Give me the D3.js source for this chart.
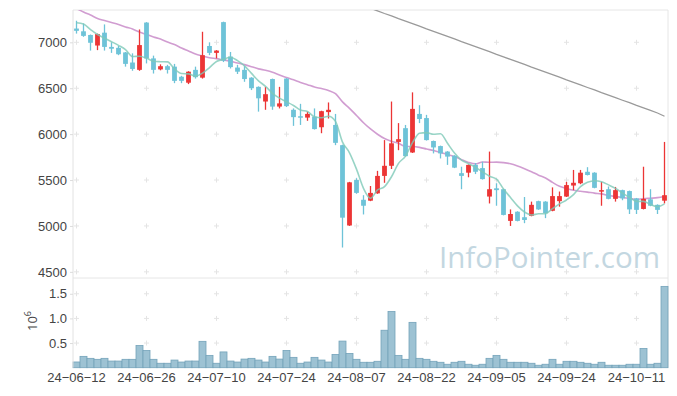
<!DOCTYPE html>
<html>
<head>
<meta charset="utf-8">
<script src="https://cdn.jsdelivr.net/npm/d3@7"></script>
<style>
	body { margin: 0; background: #fff; }
	svg { display: block; font-family: "Open Sans", "Noto Sans", sans-serif; }
</style>
</head>
<body>
<svg width="677" height="396"></svg>
<script>
// trading days, 24-06-12 .. 24-10-17
const dates = [
	"2024-06-12", "2024-06-13", "2024-06-14", "2024-06-17", "2024-06-18", "2024-06-19", "2024-06-20", "2024-06-21", "2024-06-24", "2024-06-25",
	"2024-06-26", "2024-06-27", "2024-06-28", "2024-07-01", "2024-07-02", "2024-07-03", "2024-07-04", "2024-07-05", "2024-07-08", "2024-07-09",
	"2024-07-10", "2024-07-11", "2024-07-12", "2024-07-15", "2024-07-16", "2024-07-17", "2024-07-18", "2024-07-19", "2024-07-22", "2024-07-23",
	"2024-07-24", "2024-07-25", "2024-07-26", "2024-07-29", "2024-07-30", "2024-07-31", "2024-08-01", "2024-08-02", "2024-08-05", "2024-08-06",
	"2024-08-07", "2024-08-08", "2024-08-09", "2024-08-12", "2024-08-13", "2024-08-14", "2024-08-16", "2024-08-19", "2024-08-20", "2024-08-21",
	"2024-08-22", "2024-08-23", "2024-08-26", "2024-08-27", "2024-08-28", "2024-08-29", "2024-08-30", "2024-09-02", "2024-09-03", "2024-09-04",
	"2024-09-05", "2024-09-06", "2024-09-09", "2024-09-10", "2024-09-11", "2024-09-12", "2024-09-13", "2024-09-19", "2024-09-20", "2024-09-23",
	"2024-09-24", "2024-09-25", "2024-09-26", "2024-09-27", "2024-09-30", "2024-10-02", "2024-10-04", "2024-10-07", "2024-10-08", "2024-10-10",
	"2024-10-11", "2024-10-14", "2024-10-15", "2024-10-16", "2024-10-17"
]

const open = [
	7150, 7120, 7080, 6965, 7105, 6950, 6940, 6890, 6780, 6700,
	7215, 6825, 6705, 6740, 6735, 6625, 6560, 6700, 6615, 6960,
	6885, 7220, 6845, 6725, 6700, 6615, 6515, 6355, 6600, 6300,
	6605, 6265, 6195, 6180, 6190, 6075, 6240, 6100, 5880, 5005,
	5500, 5285, 5275, 5355, 5545, 5655, 5915, 6065, 5800, 6220,
	6175, 5925, 5870, 5810, 5765, 5575, 5580, 5665, 5630, 5320,
	5410, 5400, 5055, 5155, 5095, 5110, 5270, 5265, 5165, 5270,
	5320, 5440, 5465, 5590, 5580, 5375, 5400, 5295, 5390, 5380,
	5300, 5185, 5290, 5230, 5275
]
const high = [
	7235, 7205, 7085, 7095, 7195, 7000, 6960, 6895, 6880, 7140,
	7220, 6855, 6760, 6755, 6765, 6635, 6685, 6735, 7115, 7000,
	6915, 7225, 6895, 6755, 6740, 6620, 6520, 6515, 6605, 6515,
	6610, 6280, 6330, 6245, 6280, 6255, 6345, 6220, 5885, 5480,
	5520, 5335, 5435, 5600, 5935, 6355, 6120, 6100, 6455, 6315,
	6210, 5930, 5875, 5815, 5770, 5645, 5670, 5685, 5700, 5810,
	5465, 5405, 5180, 5160, 5315, 5265, 5275, 5270, 5420, 5375,
	5480, 5610, 5610, 5640, 5585, 5480, 5430, 5425, 5395, 5385,
	5305, 5645, 5400, 5235, 5915
]
const low = [
	7095, 7060, 6910, 6915, 6910, 6885, 6860, 6735, 6690, 6690,
	6770, 6660, 6695, 6660, 6555, 6555, 6545, 6605, 6605, 6860,
	6825, 6785, 6715, 6655, 6570, 6480, 6245, 6265, 6265, 6280,
	6295, 6090, 6100, 6145, 6050, 6010, 6170, 5880, 4765, 5000,
	5350, 5125, 5270, 5350, 5470, 5620, 5825, 5755, 5795, 6120,
	5930, 5790, 5735, 5665, 5630, 5400, 5530, 5565, 5505, 5245,
	5220, 5115, 5000, 5050, 5030, 5105, 5175, 5085, 5160, 5210,
	5315, 5390, 5455, 5550, 5410, 5220, 5290, 5265, 5280, 5130,
	5130, 5180, 5215, 5130, 5245
]
const close = [
	7125, 7070, 6995, 7090, 6950, 6930, 6870, 6765, 6710, 6970,
	6825, 6700, 6740, 6700, 6580, 6580, 6680, 6620, 6860, 6885,
	6910, 6800, 6730, 6680, 6600, 6500, 6390, 6435, 6300, 6335,
	6305, 6185, 6185, 6220, 6055, 6250, 6265, 5905, 5090, 5475,
	5360, 5220, 5360, 5545, 5655, 5900, 5945, 5760, 6275, 6165,
	5935, 5855, 5790, 5755, 5635, 5545, 5665, 5590, 5510, 5400,
	5390, 5120, 5130, 5055, 5065, 5230, 5180, 5140, 5325, 5325,
	5445, 5470, 5580, 5555, 5415, 5390, 5295, 5390, 5300, 5180,
	5175, 5295, 5220, 5175, 5335
]
const volume = [
	116000, 230000, 190000, 170000, 190000, 135000, 135000, 170000, 170000, 450000,
	350000, 170000, 90000, 90000, 155000, 115000, 135000, 135000, 535000, 250000,
	90000, 320000, 135000, 115000, 175000, 190000, 155000, 115000, 230000, 175000,
	350000, 210000, 90000, 115000, 210000, 155000, 115000, 270000, 540000, 290000,
	170000, 110000, 110000, 130000, 760000, 1140000, 250000, 170000, 920000, 190000,
	170000, 130000, 110000, 70000, 110000, 130000, 70000, 50000, 70000, 190000,
	250000, 170000, 110000, 110000, 110000, 90000, 50000, 70000, 170000, 70000,
	130000, 130000, 110000, 90000, 70000, 110000, 50000, 50000, 50000, 70000,
	70000, 390000, 70000, 90000, 1650000
]

// moving average lines
const ma5 = [
	7213, 7199, 7139, 7085, 7046, 7007, 6967, 6921, 6845, 6849,
	6828, 6794, 6789, 6787, 6709, 6660, 6656, 6632, 6664, 6725,
	6791, 6815, 6837, 6801, 6744, 6662, 6580, 6521, 6445, 6392,
	6353, 6312, 6262, 6246, 6190, 6179, 6195, 6139, 5913, 5797,
	5619, 5410, 5301, 5392, 5428, 5536, 5681, 5761, 5907, 6009,
	6016, 5998, 6004, 5900, 5794, 5716, 5678, 5638, 5589, 5542,
	5511, 5402, 5310, 5219, 5152, 5120, 5132, 5134, 5188, 5240,
	5283, 5341, 5429, 5475, 5493, 5482, 5447, 5409, 5358, 5311,
	5268, 5268, 5234, 5209, 5240
]
const ma20 = [
	7368, 7330, 7297, 7259, 7237, 7216, 7194, 7167, 7145, 7112,
	7085, 7058, 7036, 7003, 6976, 6938, 6905, 6872, 6851, 6832,
	6822, 6808, 6795, 6774, 6757, 6735, 6711, 6695, 6674, 6643,
	6617, 6591, 6563, 6539, 6513, 6496, 6476, 6440, 6351, 6281,
	6203, 6124, 6056, 5999, 5952, 5922, 5900, 5866, 5865, 5856,
	5838, 5821, 5801, 5778, 5757, 5722, 5692, 5676, 5697, 5693,
	5695, 5690, 5678, 5654, 5624, 5591, 5553, 5522, 5474, 5432,
	5408, 5388, 5378, 5368, 5357, 5349, 5331, 5321, 5310, 5299,
	5288, 5297, 5302, 5308, 5321
]
// long average only shows from 24-08-09 on (above the plot before that)
const ma120Start = 42
const ma120 = [
	7370, 7343, 7314, 7287, 7258, 7231, 7203, 7176, 7147, 7120,
	7092, 7064, 7037, 7008, 6981, 6953, 6925, 6898, 6869, 6842,
	6814, 6786, 6759, 6730, 6703, 6675, 6647, 6620, 6591, 6564,
	6536, 6508, 6481, 6452, 6425, 6397, 6369, 6342, 6313, 6286,
	6258, 6230, 6195
]

const priceTicks = [4500, 5000, 5500, 6000, 6500, 7000]
const volTicks = [500000, 1000000, 1500000]
const dateTicks = dates.filter((d, i) => i % 10 == 0)

const svg = d3.select("svg"),
	width = +svg.attr("width"),
	height = +svg.attr("height");

const plotLeft = 73, plotRight = 668, plotTop = 10, split = 278, plotBottom = 367.7

const x = d3.scaleBand().domain(dates).range([plotLeft, plotRight])
const y = d3.scaleLinear().domain([4433, 7352]).range([split, plotTop])
const yv = d3.scaleLinear().domain([0, 1820000]).range([plotBottom, split])
const cx = d => x(d) + x.bandwidth() / 2

const red = "#ec3535", blue = "#6ec3d8", grid = "#e4e4e4"

svg.append("clipPath").attr("id", "clip")
	.append("rect").attr("x", plotLeft).attr("y", plotTop)
	.attr("width", plotRight - plotLeft).attr("height", split - plotTop)

// small crosses on the grid points
const cross = "M-2.5,0H2.5M0,-2.5V2.5"
const gridG = svg.append("g").attr("stroke", grid).attr("stroke-width", 1)
dateTicks.forEach(d => {
	priceTicks.map(y).concat(volTicks.map(yv)).forEach(py => {
		gridG.append("path").attr("d", cross).attr("transform", `translate(${cx(d)},${py})`)
	})
})

// frame
svg.append("g").attr("stroke", "#e6e6e6").attr("fill", "none")
	.selectAll("line")
	.data([[plotLeft, plotTop, plotRight, plotTop], [plotRight, plotTop, plotRight, plotBottom], [plotLeft, split, plotRight, split]])
	.join("line")
	.attr("x1", d => d[0]).attr("y1", d => d[1]).attr("x2", d => d[2]).attr("y2", d => d[3])

svg.append("text")
	.attr("x", 660).attr("y", 268)
	.attr("text-anchor", "end")
	.attr("font-size", 29.5)
	.attr("fill", "#c3d7e1")
	.text("InfoPointer.com")

// volume
svg.append("g")
	.selectAll("rect")
	.data(dates)
	.join("rect")
	.attr("x", d => x(d))
	.attr("width", x.bandwidth())
	.attr("y", (d, i) => yv(volume[i]))
	.attr("height", (d, i) => plotBottom - yv(volume[i]))
	.attr("fill", "#9dc2d3")
	.attr("stroke", "#74a3ba")
	.attr("stroke-width", 0.8)

// price panel
const plot = svg.append("g").attr("clip-path", "url(#clip)")

const line = arr => d3.line().x((v, i) => cx(dates[i])).y(v => y(v)).curve(d3.curveMonotoneX)(arr)

plot.append("path").attr("d", line(ma20))
	.attr("fill", "none").attr("stroke", "#c585c5").attr("stroke-opacity", 0.8).attr("stroke-width", 1.6)

plot.append("path")
	.attr("d", d3.line().x((v, i) => cx(dates[i + ma120Start])).y(v => y(v))(ma120))
	.attr("fill", "none").attr("stroke", "#9a9a9a").attr("stroke-width", 1.3)

const candle = plot.append("g")
	.selectAll("g")
	.data(dates)
	.join("g")
	.attr("fill", (d, i) => close[i] >= open[i] ? red : blue)
	.attr("stroke", (d, i) => close[i] >= open[i] ? red : blue)

candle.append("line")
	.attr("x1", d => cx(d)).attr("x2", d => cx(d))
	.attr("y1", (d, i) => y(high[i]))
	.attr("y2", (d, i) => y(low[i]))
	.attr("stroke-width", 1.3)

candle.append("rect")
	.attr("x", d => cx(d) - 2.4)
	.attr("width", 4.8)
	.attr("y", (d, i) => y(Math.max(open[i], close[i])))
	.attr("height", (d, i) => Math.max(1.5, Math.abs(y(open[i]) - y(close[i]))))
	.attr("stroke", "none")

plot.append("path").attr("d", line(ma5))
	.attr("fill", "none").attr("stroke", "#7ec9b8").attr("stroke-opacity", 0.8).attr("stroke-width", 1.6)

// axes
const styleAxis = g => {
	g.select(".domain").attr("stroke", "#e2e2e2")
	g.selectAll(".tick line").attr("stroke", "#dcdcdc")
	g.selectAll("text").attr("fill", "#444").attr("font-size", 13)
}

svg.append("g")
	.attr("transform", `translate(${plotLeft},0)`)
	.call(d3.axisLeft(y).tickValues(priceTicks).tickSize(3).tickPadding(3).tickFormat(d3.format("d")))
	.call(styleAxis)
	.select(".domain").attr("d", `M0,${plotTop}V${split}`)

svg.append("g")
	.attr("transform", `translate(${plotLeft},0)`)
	.call(d3.axisLeft(yv).tickValues(volTicks).tickSize(3).tickPadding(3).tickFormat(v => (v / 1e6).toFixed(1)))
	.call(styleAxis)
	.select(".domain").attr("d", `M0,${split}V${plotBottom}`)

svg.append("g")
	.attr("transform", `translate(0,${plotBottom})`)
	.call(d3.axisBottom(x).tickValues(dateTicks).tickSize(0).tickPadding(5)
		.tickFormat(d => d.slice(2).replace(/-/g, "\u2212")))
	.call(styleAxis)
	.call(g => g.select(".domain").remove())

const unit = svg.append("text")
	.attr("transform", "translate(37,321) rotate(-90)")
	.attr("text-anchor", "middle")
	.attr("fill", "#444")
	.attr("font-size", 13)
unit.append("tspan").text("10")
unit.append("tspan").attr("dy", -6).attr("font-size", 9).text("6")
</script>
</body>
</html>
